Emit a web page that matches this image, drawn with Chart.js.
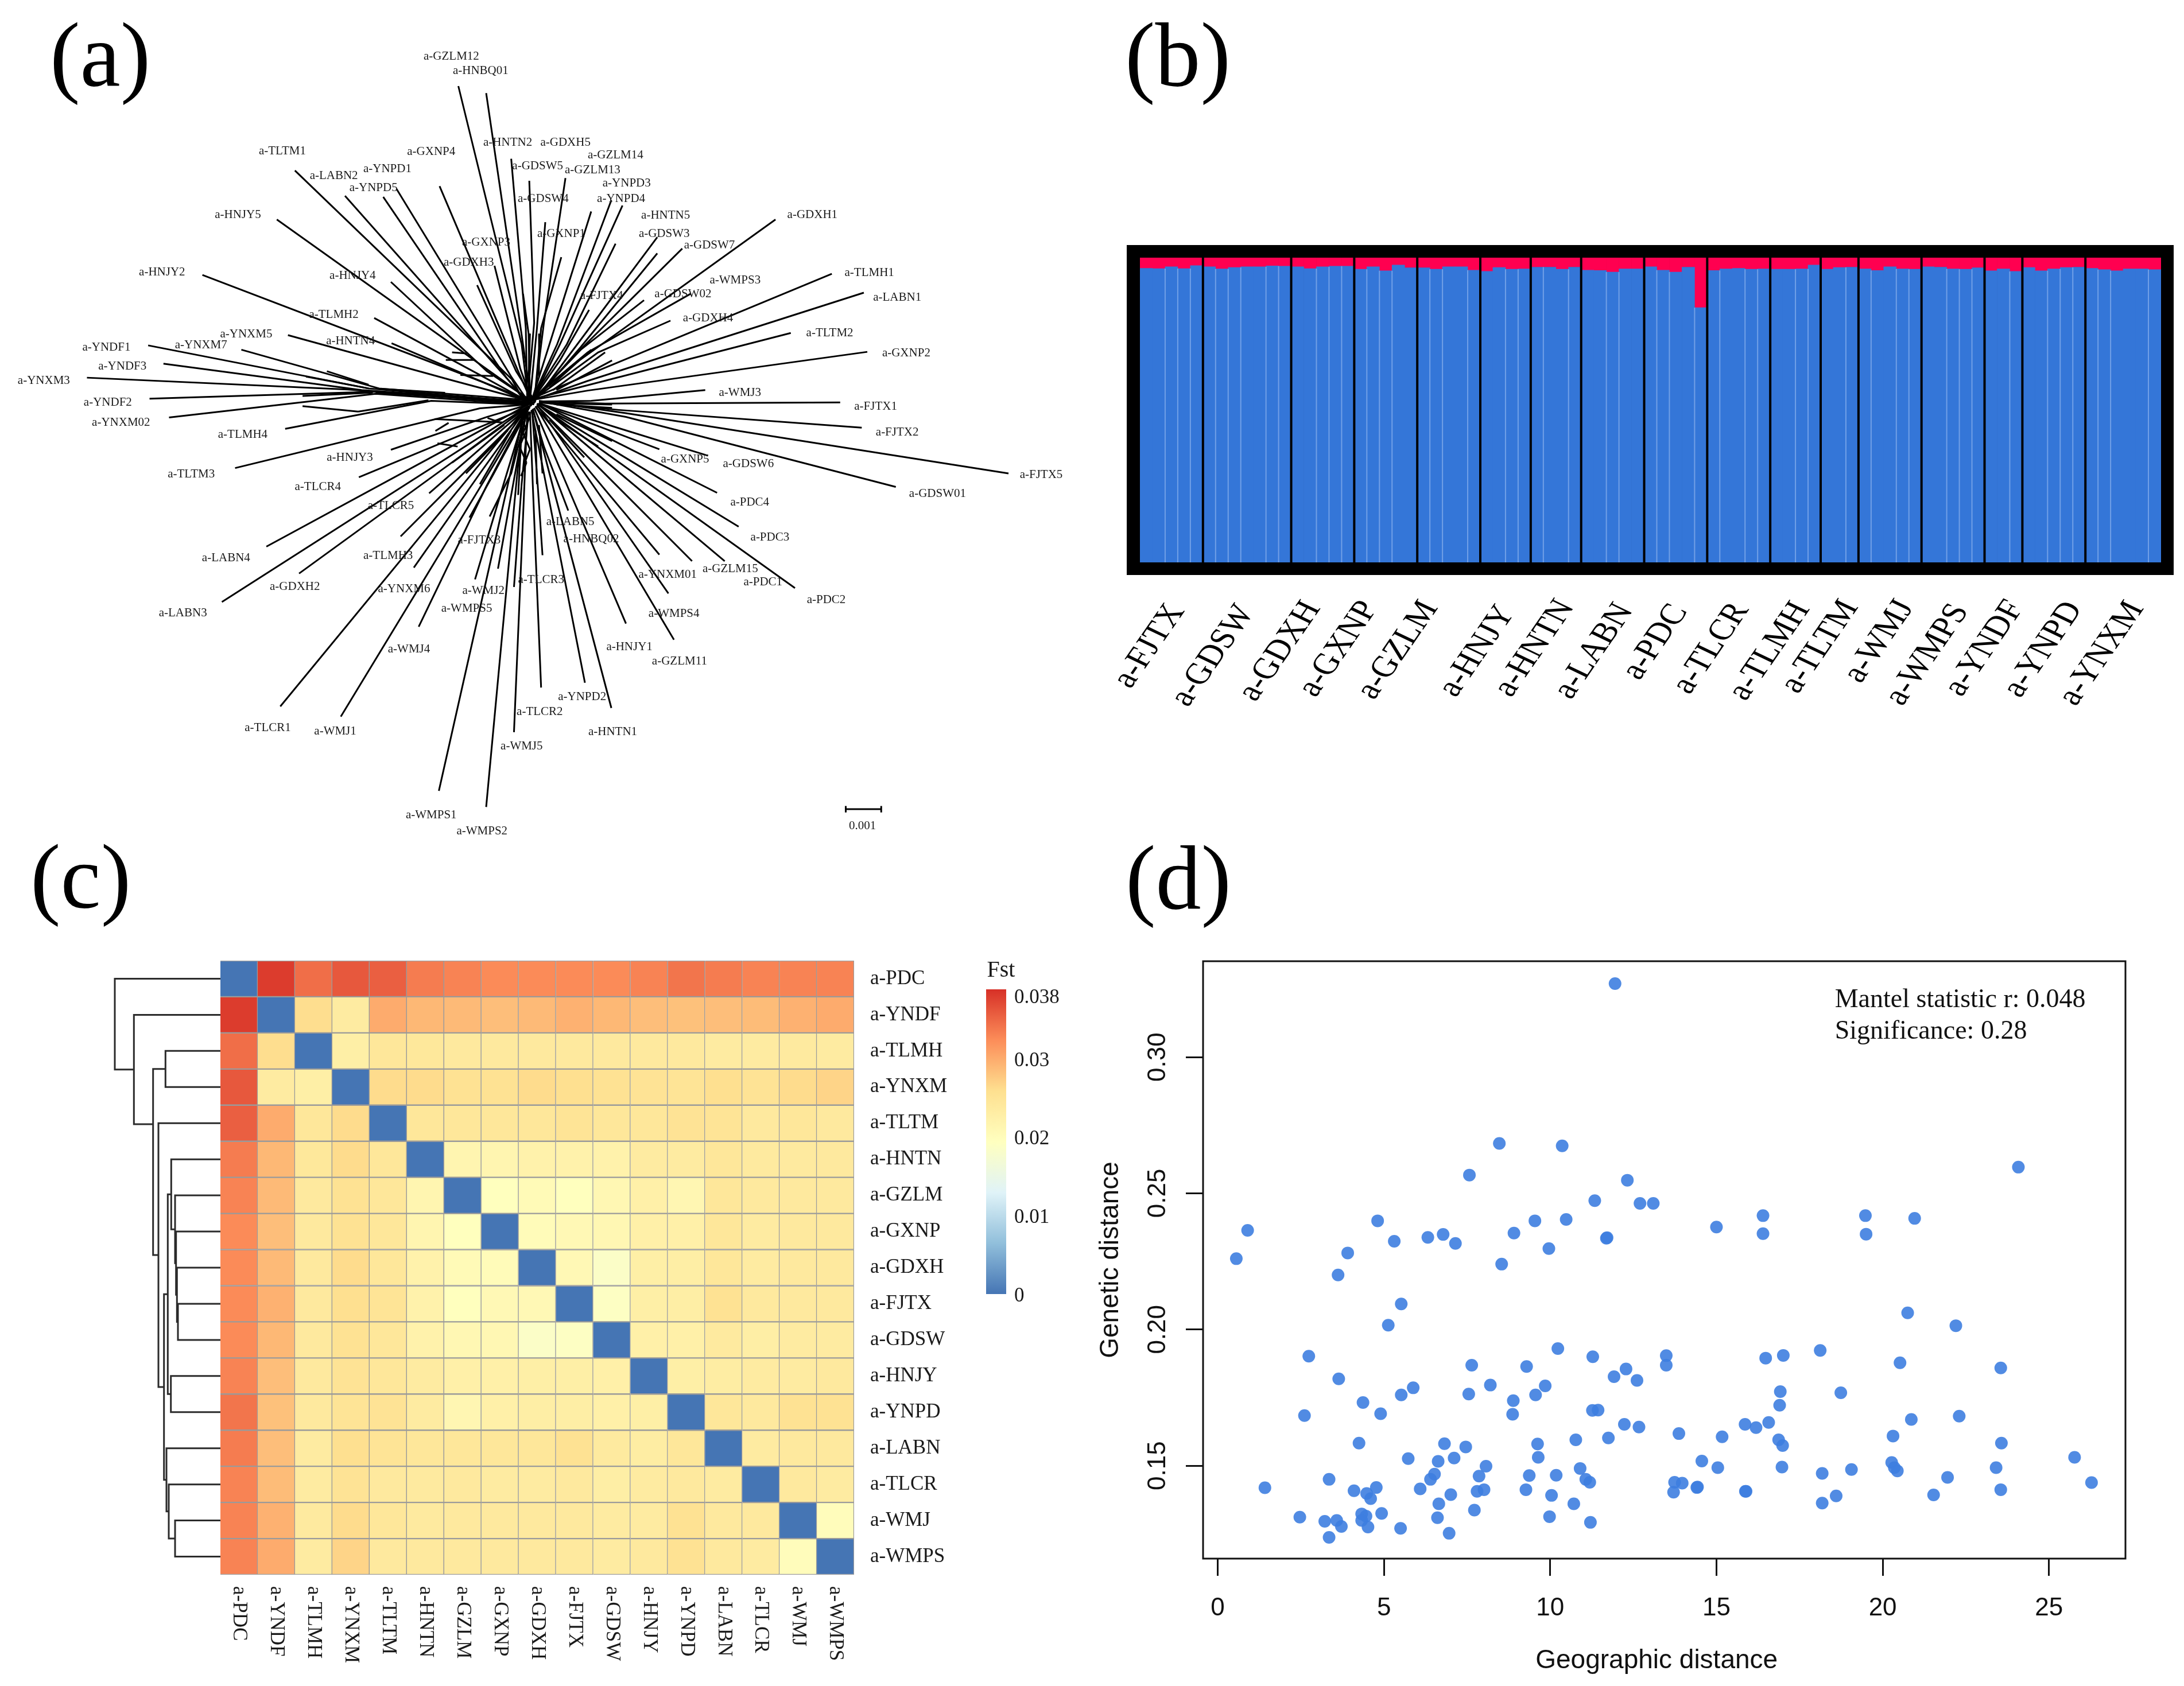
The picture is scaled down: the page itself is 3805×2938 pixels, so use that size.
<!DOCTYPE html>
<html>
<head>
<meta charset="utf-8">
<script src="https://cdn.jsdelivr.net/npm/chart.js@4"></script>
<style>
html, body { margin: 0; padding: 0; background: #fff; overflow: hidden; }
#page { position: relative; width: 3805px; height: 2938px; background: #fff; }
canvas { position: absolute; }
.tag { position: absolute; font: 158px/158px "Liberation Serif", serif; color: #000; }
</style>
</head>
<body>
<div id="page">
  <canvas id="treeChart" width="1900" height="1470" style="left:0;top:0"></canvas>
  <canvas id="structureChart" width="1905" height="900" style="left:1900px;top:380px"></canvas>
  <canvas id="fstChart" width="1750" height="1298" style="left:150px;top:1640px"></canvas>
  <canvas id="mantelChart" width="1925" height="1298" style="left:1880px;top:1640px"></canvas>
  <div class="tag" style="left:87px;top:17px">(a)</div>
  <div class="tag" style="left:1960px;top:17px">(b)</div>
  <div class="tag" style="left:53px;top:1449px">(c)</div>
  <div class="tag" style="left:1961px;top:1451px">(d)</div>
</div>
<script>
// (a) neighbour-joining network
const treeNames = ['a-GZLM12','a-HNBQ01','a-HNTN2','a-GDXH5','a-GZLM14','a-GXNP4','a-TLTM1','a-GDSW5','a-GZLM13','a-YNPD1',
  'a-LABN2','a-YNPD3','a-YNPD5','a-GDSW4','a-YNPD4','a-HNJY5','a-HNTN5','a-GDXH1','a-GXNP1','a-GDSW3',
  'a-GXNP3','a-GDSW7','a-GDXH3','a-HNJY2','a-TLMH1','a-HNJY4','a-WMPS3','a-GDSW02','a-FJTX4','a-LABN1',
  'a-TLMH2','a-GDXH4','a-TLTM2','a-YNXM5','a-HNTN4','a-YNDF1','a-YNXM7','a-GXNP2','a-YNDF3','a-YNXM3',
  'a-WMJ3','a-YNDF2','a-FJTX1','a-YNXM02','a-FJTX2','a-TLMH4','a-HNJY3','a-GXNP5','a-GDSW6','a-TLTM3',
  'a-FJTX5','a-TLCR4','a-GDSW01','a-PDC4','a-TLCR5','a-LABN5','a-PDC3','a-HNBQ02','a-FJTX3','a-TLMH3',
  'a-LABN4','a-GZLM15','a-YNXM01','a-PDC1','a-TLCR3','a-GDXH2','a-YNXM6','a-WMJ2','a-PDC2','a-LABN3',
  'a-WMPS5','a-WMPS4','a-HNJY1','a-WMJ4','a-GZLM11','a-YNPD2','a-TLCR2','a-TLCR1','a-WMJ1','a-HNTN1',
  'a-WMJ5','a-WMPS1','a-WMPS2','',''];
const nameX = [649,691,730,813,885,620,406,773,852,557,
  480,901,537,781,893,342,957,1168,807,955,
  699,1020,674,233,1250,507,1057,982,865,1290,
  480,1018,1193,354,504,153,289,1303,176,63,
  1064,155,1259,174,1290,349,503,985,1076,275,
  1497,457,1348,1078,562,820,1107,850,689,558,
  325,1050,960,1097,778,424,581,695,1188,263,
  671,969,905,588,977,837,776,385,482,881,
  750,620,693,0,0];
const nameY = [105,132,265,265,289,282,281,309,316,314,
  327,341,349,370,370,399,401,399,435,435,
  451,456,488,506,507,513,521,547,550,553,
  585,591,619,621,634,646,642,656,681,708,
  730,748,756,786,804,808,851,854,862,882,
  883,905,918,934,940,970,999,1002,1004,1033,
  1037,1058,1068,1082,1078,1091,1095,1098,1115,1140,
  1131,1141,1203,1207,1229,1295,1323,1353,1359,1361,
  1387,1515,1545,0,0];
const tipX = [659,699,735,813,879,632,424,761,850,570,
  496,895,551,784,885,398,945,1115,807,945,
  711,981,686,291,1196,562,993,926,847,1242,
  538,964,1137,414,563,213,347,1247,235,125,
  1014,215,1208,243,1239,410,562,948,1018,338,
  1450,516,1288,1031,617,817,1062,780,675,576,
  383,995,948,1042,739,430,595,683,1143,319,
  716,961,900,602,969,841,778,403,490,879,
  739,631,699,752,704];
const tipY = [160,173,295,331,372,346,317,336,393,351,
  364,382,366,413,453,408,441,408,478,471,
  494,462,530,511,509,524,546,558,576,544,
  591,596,619,623,638,642,650,654,676,702,
  725,741,748,776,795,797,836,835,847,870,
  880,887,905,916,917,949,979,1032,962,997,
  1016,1043,1031,1043,1091,1066,1055,1077,1093,1119,
  1057,1103,1159,1165,1189,1269,1278,1313,1332,1316,
  1361,1470,1500,546,960];
const knotX = [750,752,756,782,801,745,736,768,790,735,
  732,805,728,772,815,728,830,820,778,835,
  748,842,742,690,845,700,845,835,805,845,
  690,860,845,650,690,530,545,845,520,500,
  850,540,870,540,890,620,700,870,900,690,
  900,660,900,899,725,782,873,773,710,680,
  660,846,831,855,750,660,690,724,869,660,
  735,830,808,700,818,782,766,680,700,790,
  754,725,740,760,735];
const knotY = [640,640,610,600,640,690,705,600,640,700,
  708,640,702,610,640,712,640,682,610,645,
  685,640,690,708,697,690,655,650,670,708,
  697,655,716,707,708,722,722,726,725,724,
  745,728,750,732,762,745,775,797,800,759,
  768,810,775,830,795,830,830,900,880,862,
  822,850,850,840,900,850,880,900,840,837,
  920,860,880,902,860,880,900,878,885,880,
  900,930,930,620,880];
const hubX = [760,764,758,768,762,766,755,758,765,764,
  759,768,757,762,760,766,765,760,768,762,
  764,758,770,768,770,764,768,765,765,770,
  762,770,772,760,764,760,762,772,758,762,
  776,760,775,758,775,756,760,774,776,758,
  775,762,775,776,764,766,774,765,760,762,
  762,772,770,774,760,760,760,755,772,758,
  756,772,768,758,770,764,762,755,757,766,
  758,754,752,762,758];
const hubY = [745,748,742,745,750,752,750,748,742,755,
  752,738,745,744,752,748,752,750,750,755,
  742,754,748,752,738,745,738,745,745,742,
  748,740,740,745,746,748,744,742,746,750,
  746,750,746,752,748,752,752,750,750,752,
  745,755,746,750,752,760,752,762,760,757,
  750,754,756,752,765,755,754,768,750,756,
  770,752,758,760,755,762,765,760,762,760,
  768,765,770,745,765];
// short reticulations and doubled stretches between branches
const webStartX = [435,515,435,625,629,641,650,662,701,626,748,757,747,757,762,752,762,
  790,795,800,725,730,735,800,795,790,750,770,775,760,775,640,640,700,800,800,440,470];
const webStartY = [755,765,736,779,824,669,655,697,777,801,770,800,830,860,775,805,835,
  720,725,725,790,800,800,770,775,780,800,800,790,700,700,730,738,742,750,752,700,690];
const webEndX = [515,616,536,722,658,681,671,709,716,645,757,747,757,749,752,762,753,
  850,870,880,650,670,690,880,860,840,745,772,780,762,775,540,540,640,880,880,530,530];
const webEndY = [765,744,730,785,830,669,657,699,784,786,800,830,860,885,805,835,865,
  650,655,670,860,880,900,820,830,850,920,900,880,620,620,722,730,735,752,758,722,715];
const scaleBarX = [1216,1267];
const scaleBarY = 1504;
const scaleBarCap = 6;
const scaleBarText = '0.001';

// (b) admixture bars, percent of the red cluster per individual
const popNames = ['a-FJTX','a-GDSW','a-GDXH','a-GXNP','a-GZLM','a-HNJY','a-HNTN','a-LABN','a-PDC','a-TLCR','a-TLMH','a-TLTM','a-WMJ','a-WMPS','a-YNDF','a-YNPD','a-YNXM'];
const popSizes = [5,7,5,5,5,4,4,5,5,5,4,3,5,5,3,5,6];
const redShare = [3.5,3.6,3.0,3.6,2.6, 3.0,3.7,3.2,3.0,3.0,2.7,2.8, 3.0,3.6,3.0,2.8,2.8,
  3.8,3.0,4.3,2.4,3.3, 3.3,3.8,3.0,3.0,4.1, 4.5,3.2,3.8,3.7, 3.1,3.1,3.8,3.1,
  4.1,4.2,4.7,3.7,3.7, 3.0,4.1,4.7,3.1,16.4, 4.2,3.7,3.5,3.8,3.7, 3.8,3.8,3.7,2.4,
  3.8,3.2,3.1, 3.7,4.2,3.0,3.7,3.8, 3.0,3.1,3.7,3.8,3.3, 4.3,3.7,4.5,
  3.2,4.3,3.7,3.2,3.1, 3.5,3.9,4.3,3.7,3.7,3.9];
const blueShare = redShare.map(v => 100 - v);
// pale seams inside a population, counted in bars from its left edge
const popSeams = [[2,3,4],[1,2,3,5,6],[2,3,4],[1,2,3],[1,2,4],[2,3],[1,3],[2,3],[1,2,4],[1,3,4],[2,3],[2],[1,3,4],[2,3,4],[2],[2,3,4],[1,2,5]];
const popLabelAt = [0.27,5.31,10.62,15.27,19.98,26.28,30.82,35.53,40.4,44.82,49.47,53.46,58.16,61.98,66.52,71.17,75.81];
const popLabelDrop = [146,163,155,151,153,155,150,155,139,150,155,147,138,161,150,152,159];

// (c) pairwise Fst
const fstNames = ['a-PDC','a-YNDF','a-TLMH','a-YNXM','a-TLTM','a-HNTN','a-GZLM','a-GXNP','a-GDXH','a-FJTX','a-GDSW','a-HNJY','a-YNPD','a-LABN','a-TLCR','a-WMJ','a-WMPS'];
const fstRows = [
  [0,.038,.0345,.036,.0355,.0335,.033,.0325,.0325,.0325,.0325,.033,.034,.0335,.033,.033,.033],
  [.038,0,.026,.0235,.03,.029,.0288,.0285,.0288,.0295,.029,.0285,.0283,.0285,.0287,.0295,.03],
  [.0345,.026,0,.0228,.0245,.0243,.024,.024,.024,.024,.024,.024,.024,.0235,.0235,.0238,.0235],
  [.036,.0235,.0228,0,.0262,.0262,.0255,.0255,.0262,.0258,.0255,.0252,.025,.0258,.0252,.0262,.0268],
  [.0355,.03,.0245,.0262,0,.0245,.0245,.0245,.0245,.025,.0245,.0245,.0252,.025,.024,.0245,.024],
  [.0335,.029,.0243,.0262,.0245,0,.0215,.0215,.0222,.0222,.0222,.0235,.0235,.0245,.0238,.0238,.024],
  [.033,.0288,.024,.0255,.0245,.0215,0,.0195,.0205,.0195,.021,.0225,.0212,.0245,.024,.024,.024],
  [.0325,.0285,.024,.0255,.0245,.0215,.0195,0,.0202,.0208,.021,.0225,.0225,.0245,.0235,.024,.024],
  [.0325,.0288,.024,.0262,.0245,.0222,.0205,.0202,0,.0208,.0185,.0228,.023,.0245,.0235,.024,.024],
  [.0325,.0295,.024,.0258,.025,.0222,.0195,.0208,.0208,0,.019,.0228,.023,.0255,.024,.024,.024],
  [.0325,.029,.024,.0255,.0245,.0222,.021,.021,.0185,.019,0,.0225,.0225,.0238,.023,.0235,.0235],
  [.033,.0285,.024,.0252,.0245,.0235,.0225,.0225,.0228,.0228,.0225,0,.0228,.0232,.0235,.0235,.024],
  [.034,.0283,.024,.025,.0252,.0235,.0212,.0225,.023,.023,.0225,.0228,0,.0245,.024,.0255,.0255],
  [.0335,.0285,.0235,.0258,.025,.0245,.0245,.0245,.0245,.0255,.0238,.0232,.0245,0,.0235,.024,.024],
  [.033,.0287,.0235,.0252,.024,.0238,.024,.0235,.0235,.024,.023,.0235,.024,.0235,0,.024,.0235],
  [.033,.0295,.0238,.0262,.0245,.0238,.024,.024,.024,.024,.0235,.0235,.0255,.024,.024,0,.02],
  [.033,.03,.0235,.0268,.024,.024,.024,.024,.024,.024,.0235,.024,.0255,.024,.0235,.02,0]
];
const fstMax = 0.0388;
const fstTicks = [0, 0.01, 0.02, 0.03, 0.038];
const fstPalette = ['#4575B4','#91BFDB','#E0F3F8','#FFFFBF','#FEE090','#FC8D59','#D73027'];
// row dendrogram, hclust style: a child >= 0 is a row, a child < 0 is an earlier merge
const mergeLeft  = [9,8,7,6,5,11,-5,15,14,13,-7,4,2,-13,1,0];
const mergeRight = [10,-1,-2,-3,-4,12,-6,16,-8,-9,-10,-11,3,-12,-14,-15];
const mergeHeight = [74,75.7,77.3,79,85.7,86.3,91.7,79,90,94,98.3,108,95.7,117.3,150.7,184];
const mergeJoinRow = {13: 4.03};

// (d) Mantel scatter
const geoDist = [11.95,8.47,10.36,7.57,12.32,24.08,11.34,12.70,13.10,4.81,9.54,10.48,16.40,19.48,20.96,0.90,6.78,8.91,6.32,5.31,
  7.15,11.69,11.71,15.0,16.40,19.50,9.96,3.91,0.56,8.54,3.62,5.52,5.13,20.75,22.20,10.23,2.74,11.28,13.49,17.01,
  16.48,18.12,20.52,7.64,9.29,13.49,23.55,3.64,12.28,11.92,12.61,8.20,5.88,9.85,5.52,7.55,9.56,16.92,18.74,4.37,
  8.89,16.90,4.90,2.61,8.87,11.27,11.44,22.30,20.86,12.23,12.67,15.86,16.19,16.57,13.87,15.17,20.31,4.25,6.82,9.62,
  10.77,11.75,16.87,16.99,23.57,7.46,5.73,7.11,9.64,25.77,6.63,14.56,8.07,10.90,15.04,16.97,19.06,20.27,20.35,20.44,
  23.41,6.52,7.86,9.37,10.18,18.18,3.35,6.40,11.07,11.19,21.95,13.74,13.97,26.28,1.42,4.77,6.09,9.27,14.41,14.43,
  4.10,4.48,7.80,8.01,13.71,15.87,15.89,23.55,4.60,7.01,10.04,21.53,18.60,6.65,10.71,18.18,7.72,4.33,4.93,4.46,
  2.47,6.61,9.98,3.22,3.58,4.33,11.21,3.72,4.52,5.50,6.96,3.35];
const genDist = [.3270,.2683,.2674,.2567,.2548,.2596,.2473,.2463,.2463,.2399,.2399,.2404,.2418,.2418,.2408,.2364,.2349,.2354,.2338,.2324,
  .2316,.2335,.2337,.2376,.2352,.2350,.2297,.2281,.2260,.2240,.2200,.2094,.2016,.2061,.2014,.1930,.1902,.1900,.1904,.1905,
  .1895,.1923,.1878,.1869,.1864,.1869,.1859,.1819,.1855,.1827,.1813,.1796,.1786,.1793,.1760,.1763,.1760,.1772,.1768,.1732,
  .1739,.1722,.1691,.1684,.1689,.1703,.1704,.1682,.1670,.1652,.1642,.1652,.1640,.1659,.1618,.1606,.1609,.1583,.1581,.1580,
  .1595,.1602,.1595,.1574,.1583,.1569,.1526,.1528,.1531,.1531,.1516,.1517,.1498,.1490,.1493,.1495,.1486,.1512,.1493,.1481,
  .1493,.1469,.1462,.1464,.1465,.1472,.1450,.1450,.1450,.1439,.1457,.1439,.1436,.1438,.1419,.1420,.1415,.1412,.1420,.1422,
  .1408,.1398,.1406,.1412,.1403,.1406,.1406,.1412,.1379,.1394,.1391,.1393,.1389,.1360,.1360,.1363,.1337,.1323,.1325,.1315,
  .1311,.1309,.1313,.1296,.1299,.1299,.1292,.1277,.1275,.1270,.1252,.1237];
const mantelNotes = ['Mantel statistic r: 0.048', 'Significance: 0.28'];
const mantelNoteY = [.3209, .3093];
const mantelNoteX = 18.56;
const geoTitle = 'Geographic distance';
const geoTitleAt = 13.2;

const serif = '"Liberation Serif", serif';
const sans = '"Liberation Sans", Arial, sans-serif';
Chart.defaults.animation = false;
Chart.defaults.responsive = false;
Chart.defaults.devicePixelRatio = 1;
Chart.defaults.plugins.legend.display = false;
Chart.defaults.plugins.tooltip.enabled = false;

function fstColour(v) {
    const pos = Math.min(v / fstMax, 1) * (fstPalette.length - 1);
    const i = Math.min(Math.floor(pos), fstPalette.length - 2);
    const a = parseInt(fstPalette[i].slice(1), 16), b = parseInt(fstPalette[i + 1].slice(1), 16);
    const t = pos - i;
    const mix = s => Math.round(((a >> s) & 255) * (1 - t) + ((b >> s) & 255) * t);
    return `rgb(${mix(16)},${mix(8)},${mix(0)})`;
}

// ---- (a)
const treeSets = tipX.map((x, i) => ({
    data: [{x: x, y: tipY[i]}, {x: knotX[i], y: knotY[i]}, {x: hubX[i], y: hubY[i]}]
}));
webStartX.forEach((x, i) => treeSets.push({data: [{x: x, y: webStartY[i]}, {x: webEndX[i], y: webEndY[i]}]}));
treeSets.push({data: [{x: scaleBarX[0], y: scaleBarY}, {x: scaleBarX[1], y: scaleBarY}]});
scaleBarX.forEach(x => treeSets.push({data: [{x: x, y: scaleBarY - scaleBarCap}, {x: x, y: scaleBarY + scaleBarCap}]}));
treeSets.forEach(s => { s.showLine = true; s.pointRadius = 0; s.borderColor = '#000'; s.borderWidth = 3; s.tension = 0; });

new Chart(document.getElementById('treeChart'), {
    type: 'scatter',
    data: {datasets: treeSets},
    options: {
        scales: {
            x: {display: false, min: 0, max: 1568},
            y: {display: false, min: 0, max: 1568, reverse: true}
        }
    },
    plugins: [{
        id: 'tipNames',
        afterDatasetsDraw(chart) {
            const {ctx, scales: {x, y}} = chart;
            ctx.save();
            ctx.font = '21px ' + serif;
            ctx.fillStyle = '#1a1a1a';
            ctx.textAlign = 'center';
            ctx.textBaseline = 'middle';
            treeNames.forEach((name, i) => {
                if (name) ctx.fillText(name, x.getPixelForValue(nameX[i]), y.getPixelForValue(nameY[i]));
            });
            ctx.fillText(scaleBarText, x.getPixelForValue(1240), y.getPixelForValue(1535));
            ctx.restore();
        }
    }]
});

// ---- (b)
new Chart(document.getElementById('structureChart'), {
    type: 'bar',
    data: {
        labels: redShare.map((v, i) => i + 1),
        datasets: [
            {data: blueShare, backgroundColor: '#3476D8', barPercentage: 1, categoryPercentage: 1},
            {data: redShare, backgroundColor: '#FF0050', barPercentage: 1, categoryPercentage: 1}
        ]
    },
    options: {
        layout: {padding: {left: 86, right: 40, top: 69, bottom: 300}},
        scales: {
            x: {display: false, stacked: true},
            y: {display: false, stacked: true, min: 0, max: 100}
        }
    },
    plugins: [{
        id: 'structureFrame',
        beforeDraw(chart) {
            const {ctx, chartArea: a} = chart;
            ctx.save();
            ctx.fillStyle = '#000';
            ctx.fillRect(a.left - 23, a.top - 22, a.width + 45, a.height + 44);
            ctx.restore();
        },
        afterDatasetsDraw(chart) {
            const {ctx, chartArea: a, scales: {x, y}} = chart;
            ctx.save();
            let start = 0;
            popSizes.forEach((size, p) => {
                ctx.strokeStyle = 'rgba(140,178,238,0.7)';
                ctx.lineWidth = 2;
                popSeams[p].forEach(n => {
                    const px = x.getPixelForValue(start + n - 0.5);
                    const bar = Math.max(redShare[start + n - 1], redShare[start + n]);
                    ctx.beginPath();
                    ctx.moveTo(px, y.getPixelForValue(100 - bar));
                    ctx.lineTo(px, a.bottom);
                    ctx.stroke();
                });
                start += size;
                if (p < popSizes.length - 1) {
                    const px = x.getPixelForValue(start - 0.5);
                    ctx.strokeStyle = '#000';
                    ctx.lineWidth = 4;
                    ctx.beginPath();
                    ctx.moveTo(px, a.top);
                    ctx.lineTo(px, a.bottom);
                    ctx.stroke();
                }
            });
            // names are rotated 60 degrees, then widened a little with the panel
            ctx.fillStyle = '#000';
            ctx.font = '52px ' + serif;
            ctx.textAlign = 'center';
            ctx.textBaseline = 'middle';
            popNames.forEach((name, p) => {
                ctx.save();
                ctx.translate(x.getPixelForValue(popLabelAt[p]), a.bottom + popLabelDrop[p]);
                ctx.scale(1.2, 1);
                ctx.rotate(-Math.PI / 3);
                ctx.fillText(name, 0, 0);
                ctx.restore();
            });
            ctx.restore();
        }
    }]
});

// ---- (c)
new Chart(document.getElementById('fstChart'), {
    type: 'bar',
    data: {
        labels: fstNames,
        datasets: fstNames.map((name, col) => ({
            label: name,
            data: fstRows.map(() => 1),
            backgroundColor: fstRows.map(row => fstColour(row[col])),
            borderColor: '#9a9a9a',
            borderWidth: 1.5,
            barPercentage: 1,
            categoryPercentage: 1
        }))
    },
    options: {
        indexAxis: 'y',
        layout: {padding: {left: 234, right: 242, top: 34, bottom: 194}},
        scales: {
            x: {display: false, stacked: true, min: 0, max: fstNames.length},
            y: {
                stacked: true,
                position: 'right',
                afterFit(s) { s.width = 170; s.paddingTop = 0; s.paddingBottom = 0; },
                grid: {display: false},
                border: {display: false},
                ticks: {autoSkip: false, padding: 20, color: '#1a1a1a', font: {family: serif, size: 35}}
            }
        }
    },
    plugins: [{
        id: 'fstExtras',
        afterDraw(chart) {
            const {ctx, chartArea: a, scales: {x, y}} = chart;
            ctx.save();
            // column names read downwards
            ctx.fillStyle = '#1a1a1a';
            ctx.font = '35px ' + serif;
            ctx.textAlign = 'left';
            ctx.textBaseline = 'middle';
            fstNames.forEach((name, i) => {
                ctx.save();
                ctx.translate(x.getPixelForValue(i + 0.5), a.bottom + 20);
                ctx.rotate(Math.PI / 2);
                ctx.fillText(name, 0, 0);
                ctx.restore();
            });
            // dendrogram
            ctx.strokeStyle = '#2b2b2b';
            ctx.lineWidth = 3;
            const placed = [];
            const node = c => (c >= 0 ? {px: a.left, py: y.getPixelForValue(c)} : placed[-c - 1]);
            mergeHeight.forEach((h, m) => {
                const l = node(mergeLeft[m]), r = node(mergeRight[m]);
                const px = a.left - h;
                ctx.beginPath();
                ctx.moveTo(l.px, l.py);
                ctx.lineTo(px, l.py);
                ctx.lineTo(px, r.py);
                ctx.lineTo(r.px, r.py);
                ctx.stroke();
                const join = mergeJoinRow[m];
                placed.push({px: px, py: join === undefined ? (l.py + r.py) / 2 : y.getPixelForValue(join)});
            });
            // colour key
            const barLeft = a.right + 230, barRight = barLeft + 35;
            const barTop = 84, barBottom = 615;
            const grad = ctx.createLinearGradient(0, barBottom, 0, barTop);
            fstPalette.forEach((c, i) => grad.addColorStop(i / (fstPalette.length - 1), c));
            ctx.fillStyle = grad;
            ctx.fillRect(barLeft, barTop, barRight - barLeft, barBottom - barTop);
            ctx.fillStyle = '#1a1a1a';
            ctx.font = '35px ' + serif;
            ctx.textAlign = 'left';
            fstTicks.forEach(t => {
                ctx.fillText(String(t), barRight + 14, barBottom + 4 - t / fstMax * (barBottom - barTop));
            });
            ctx.font = '40px ' + serif;
            ctx.textAlign = 'center';
            ctx.fillText('Fst', barLeft + 26, 51);
            ctx.restore();
        }
    }]
});

// ---- (d)
new Chart(document.getElementById('mantelChart'), {
    type: 'scatter',
    data: {
        datasets: [{
            data: geoDist.map((x, i) => ({x: x, y: genDist[i]})),
            backgroundColor: 'rgba(62,126,224,0.9)',
            borderWidth: 0,
            pointRadius: 11
        }]
    },
    options: {
        layout: {padding: {left: 0, right: 102, top: 35, bottom: 0}},
        scales: {
            x: {
                min: -0.44,
                max: 27.3,
                afterFit(s) { s.height = 222; },
                grid: {drawOnChartArea: false, tickLength: 30, tickColor: '#111', tickWidth: 3},
                border: {display: false},
                ticks: {stepSize: 5, includeBounds: false, maxRotation: 0, padding: 30, color: '#111', font: {family: sans, size: 44}}
            },
            y: {
                min: 0.1159,
                max: 0.3352,
                afterFit(s) { s.width = 216; },
                grid: {drawOnChartArea: false, tickLength: 30, tickColor: '#111', tickWidth: 3},
                border: {display: false},
                ticks: {display: false, stepSize: 0.05, includeBounds: false},
                title: {display: true, text: 'Genetic distance', color: '#111', padding: {top: 28, bottom: 0}, font: {family: sans, size: 46}}
            }
        }
    },
    plugins: [{
        id: 'mantelExtras',
        afterDraw(chart) {
            const {ctx, chartArea: a, scales: {x, y}} = chart;
            ctx.save();
            ctx.strokeStyle = '#111';
            ctx.lineWidth = 3;
            ctx.strokeRect(a.left, a.top, a.width, a.height);
            ctx.fillStyle = '#111';
            ctx.font = '44px ' + sans;
            ctx.textAlign = 'center';
            ctx.textBaseline = 'middle';
            y.ticks.forEach(t => {
                ctx.save();
                ctx.translate(a.left - 78, y.getPixelForValue(t.value));
                ctx.rotate(-Math.PI / 2);
                ctx.fillText(t.value.toFixed(2), 0, 0);
                ctx.restore();
            });
            ctx.font = '46px ' + sans;
            ctx.fillText(geoTitle, x.getPixelForValue(geoTitleAt), a.bottom + 178);
            ctx.font = '46px ' + serif;
            ctx.textAlign = 'left';
            mantelNotes.forEach((note, i) => {
                ctx.fillText(note, x.getPixelForValue(mantelNoteX), y.getPixelForValue(mantelNoteY[i]));
            });
            ctx.restore();
        }
    }]
});
</script>
</body>
</html>
